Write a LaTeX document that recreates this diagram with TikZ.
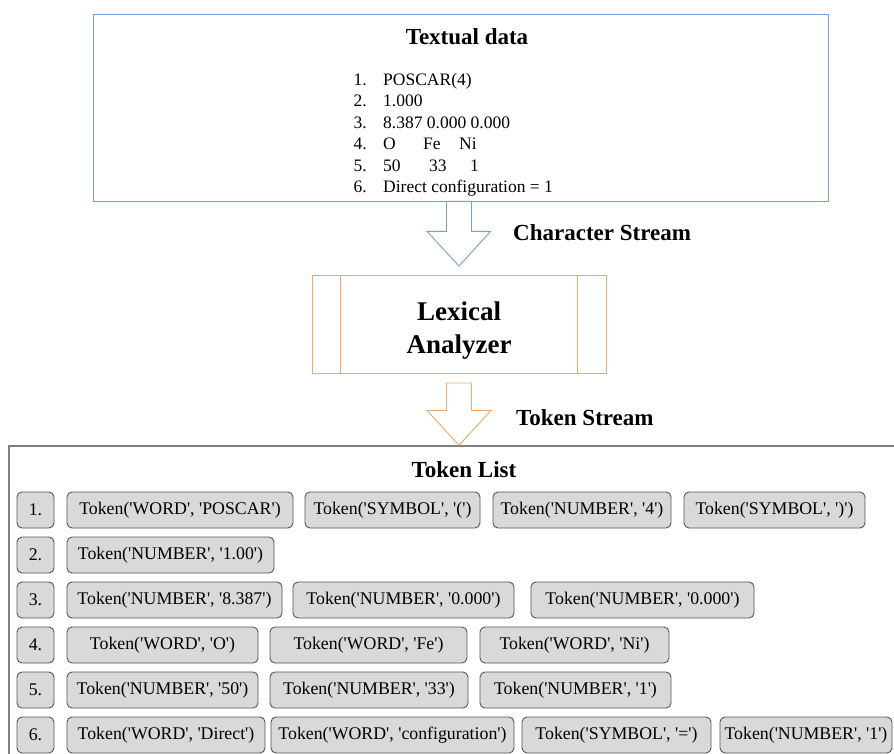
\documentclass[tikz,border=0pt]{standalone}
\usepackage{fontspec}
\setmainfont{Liberation Serif}[Ligatures=TeXOff]
\usetikzlibrary{calc}
\definecolor{flowblue}{RGB}{117,160,214}
\definecolor{floworange}{RGB}{244,166,100}
\definecolor{tokfill}{RGB}{217,217,217}
\definecolor{tokline}{RGB}{85,85,85}
\definecolor{listline}{RGB}{128,128,128}
\tikzset{
  heading/.style={font=\fontsize{23}{27}\selectfont\bfseries, inner sep=0pt},
  srcline/.style={font=\fontsize{17.5}{20}\selectfont, inner sep=0pt},
  tokbox/.style={draw=tokline, fill=tokfill, rounded corners=5pt, line width=0.9pt,
    minimum height=36pt, inner sep=0pt, font=\fontsize{17.8}{20}\selectfont},
}
% token box: name, left x, right x, centre y, text
\newcommand\tokbox[5]{%
  \node[tokbox, minimum width={(#3-#2)*1pt}] (#1) at ({(#2+#3)/2},#4) {#5};}
\begin{document}
\begin{tikzpicture}[x=1pt,y=-1pt]
\useasboundingbox (0,0) rectangle (894,754);

% source text box
\node[draw=flowblue, line width=0.9pt, minimum width=735pt, minimum height=187pt,
  inner sep=0pt] (textual) at (460.5,107.5) {};
\node[heading] (texttitle) at (467,37) {Textual data};
\foreach \n/\yy in {1/85.5,2/107,3/128.5,4/150,5/171.5,6/193}
  \node[srcline, anchor=base east] (num\n) at (367,\yy) {\n.};
\node[srcline, anchor=base west] (src1) at (383,85.5) {POSCAR(4)};
\node[srcline, anchor=base west] (src2) at (383,107) {1.000};
\node[srcline, anchor=base west] (src3) at (383,128.5) {8.387 0.000 0.000};
\node[srcline, anchor=base west] (src4) at (383,150)
  {\makebox[40pt][l]{O}\makebox[36pt][l]{Fe}Ni};
\node[srcline, anchor=base west] (src5) at (383,171.5)
  {\makebox[46pt][l]{50}\makebox[41pt][l]{33}1};
\node[srcline, anchor=base west] (src6) at (383,193) {Direct configuration = 1};

% lexical analyzer box
\node[draw=floworange, line width=0.9pt, minimum width=294pt, minimum height=98pt,
  inner sep=0pt] (lex) at (459,324.5) {};
\draw[floworange, line width=0.9pt] ($(lex.north west)+(29,0)$) -- ($(lex.south west)+(29,0)$);
\draw[floworange, line width=0.9pt] ($(lex.north east)+(-29,0)$) -- ($(lex.south east)+(-29,0)$);
\node[font=\fontsize{27}{33}\selectfont\bfseries, align=center, inner sep=0pt]
  (lextext) at (459,331) {Lexical\\Analyzer};

% token list box
\node[draw=listline, line width=1.5pt, minimum width=891pt, minimum height=324pt,
  inner sep=0pt] (listbox) at (454.5,608) {};
\node[heading] (listtitle) at (464,470) {Token List};

% hollow flow arrows
\draw[flowblue, line width=0.9pt]
  ($(textual.south)+(-14,0)$) -- ++(0,30) -- ++(-19.5,0)
  -- ($(lex.north)+(0,-9)$)
  -- ($(textual.south)+(30,30)$) -- ++(-19,0)
  -- ($(textual.south)+(11,0)$) -- cycle;
\node[heading, anchor=west] (charstream) at (513,233) {Character Stream};

\coordinate (tip2) at (lex.south |- listbox.north);
\draw[floworange, line width=0.9pt]
  ($(lex.south)+(-12.5,9)$) -- ++(0,27.5) -- ++(-19.5,0)
  -- (tip2)
  -- ($(lex.south)+(32,36.5)$) -- ++(-19.5,0)
  -- ($(lex.south)+(12.5,9)$) -- cycle;
\node[heading, anchor=west] (tokstream) at (516,418) {Token Stream};

% token rows
\tokbox{r1}{17}{54}{510}{1.}
\tokbox{r1a}{67}{293}{510}{Token('WORD', 'POSCAR')}
\tokbox{r1b}{305}{480}{510}{Token('SYMBOL', '(')}
\tokbox{r1c}{493}{671}{510}{Token('NUMBER', '4')}
\tokbox{r1d}{684}{865}{510}{Token('SYMBOL', ')')}

\tokbox{r2}{17}{54}{555}{2.}
\tokbox{r2a}{67}{274}{555}{Token('NUMBER', '1.00')}

\tokbox{r3}{17}{54}{600}{3.}
\tokbox{r3a}{67}{282}{600}{Token('NUMBER', '8.387')}
\tokbox{r3b}{293}{514}{600}{Token('NUMBER', '0.000')}
\tokbox{r3c}{531}{754}{600}{Token('NUMBER', '0.000')}

\tokbox{r4}{17}{54}{645}{4.}
\tokbox{r4a}{67}{258}{645}{Token('WORD', 'O')}
\tokbox{r4b}{270}{467}{645}{Token('WORD', 'Fe')}
\tokbox{r4c}{480}{669}{645}{Token('WORD', 'Ni')}

\tokbox{r5}{17}{54}{690}{5.}
\tokbox{r5a}{67}{258}{690}{Token('NUMBER', '50')}
\tokbox{r5b}{270}{468}{690}{Token('NUMBER', '33')}
\tokbox{r5c}{480}{671}{690}{Token('NUMBER', '1')}

\tokbox{r6}{17}{54}{735}{6.}
\tokbox{r6a}{67}{265}{735}{Token('WORD', 'Direct')}
\tokbox{r6b}{271}{514}{735}{Token('WORD', 'configuration')}
\tokbox{r6c}{522}{711}{735}{Token('SYMBOL', '=')}
\tokbox{r6d}{720}{892}{735}{Token('NUMBER', '1')}
\end{tikzpicture}
\end{document}
